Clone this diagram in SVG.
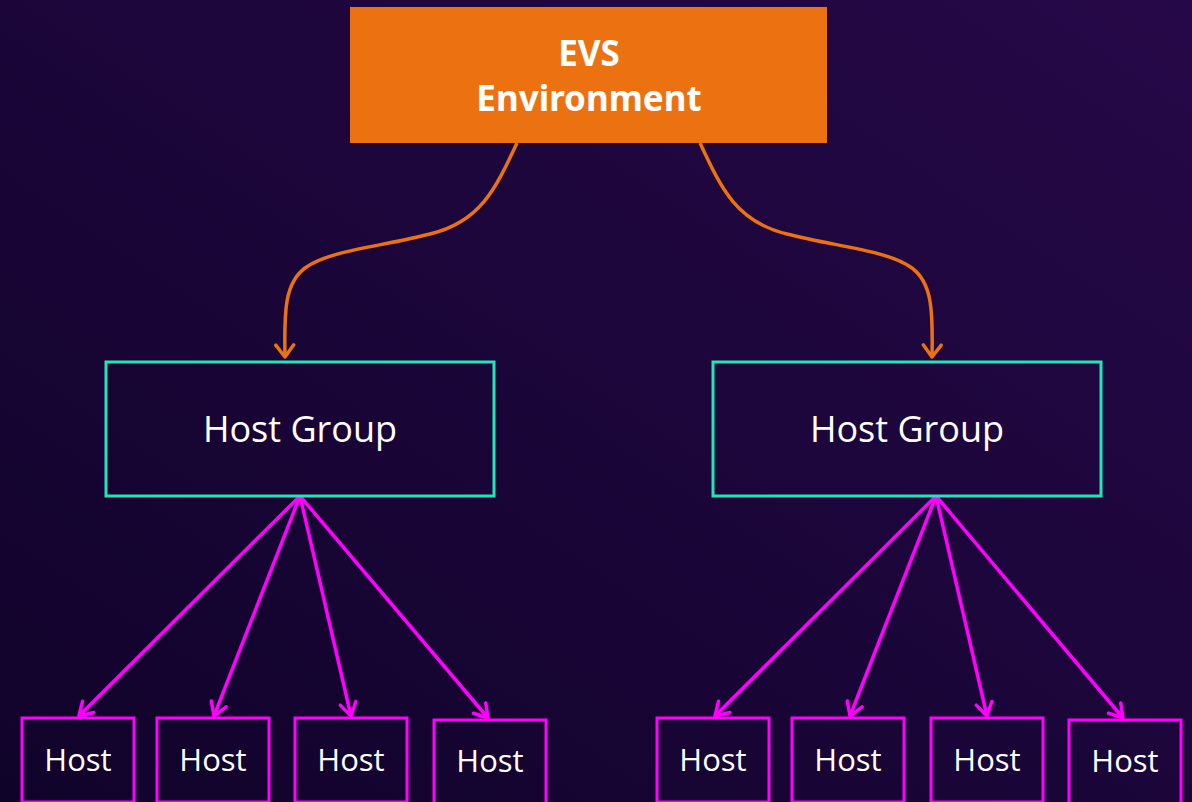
<svg xmlns="http://www.w3.org/2000/svg" width="1192" height="802" viewBox="0 0 1192 802">
<defs>
<linearGradient id="bg" x1="0" y1="1" x2="1" y2="0">
<stop offset="0" stop-color="#10032a"/>
<stop offset="1" stop-color="#260848"/>
</linearGradient>
<marker id="ao" markerUnits="userSpaceOnUse" markerWidth="30" markerHeight="30" viewBox="-16 -15 20 30" refX="0" refY="0" orient="auto">
<path d="M-12,-9 L0,0 L-12,9" fill="none" stroke="#ec7211" stroke-width="3.5" stroke-linecap="round" stroke-linejoin="round"/>
</marker>
<marker id="am" markerUnits="userSpaceOnUse" markerWidth="30" markerHeight="30" viewBox="-16 -15 20 30" refX="0" refY="0" orient="auto">
<path d="M-13,-8 L0,0 L-13,8" fill="none" stroke="#ff00ff" stroke-width="3.5" stroke-linecap="round" stroke-linejoin="round"/>
</marker>
</defs>
<style>
.group rect{fill:none;stroke:#22e5b8;stroke-width:3}
.host rect{fill:none;stroke:#ff00ff;stroke-width:3}
.lbl{font-family:"Open Sans","Noto Sans",sans-serif;fill:#ffffff;text-anchor:middle}
.gl{font-size:36px}
.hl{font-size:31px}
.env{font-family:"Noto Sans","Open Sans",sans-serif;font-weight:bold;font-size:35px;fill:#ffffff;text-anchor:middle}
.co{fill:none;stroke:#ec7211;stroke-width:3.5;marker-end:url(#ao)}
.cm{fill:none;stroke:#ff00ff;stroke-width:3.5;marker-end:url(#am)}
</style>
<rect x="0" y="0" width="1192" height="802" fill="url(#bg)"/>
<g id="connectors">
<path class="co" d="M517,143 C495,190 480,222 430,234 C380,247 330,250 305,268 C285,283 284,310 285,357"/>
<path class="co" d="M700,143 C722,190 737,222 787,234 C837,247 887,250 912,268 C932,283 933,310 932,357"/>
<line class="cm" x1="300" y1="496" x2="79" y2="716"/>
<line class="cm" x1="300" y1="496" x2="214" y2="716"/>
<line class="cm" x1="300" y1="496" x2="351" y2="716"/>
<line class="cm" x1="300" y1="496" x2="488" y2="718"/>
<line class="cm" x1="936" y1="496" x2="715" y2="716"/>
<line class="cm" x1="936" y1="496" x2="850" y2="716"/>
<line class="cm" x1="936" y1="496" x2="987" y2="716"/>
<line class="cm" x1="936" y1="496" x2="1123" y2="718"/>
</g>
<g id="evs">
<rect x="350" y="7" width="477" height="136" fill="#ec7211"/>
<text class="env" x="589" y="66">EVS</text>
<text class="env" x="589" y="111">Environment</text>
</g>
<g id="hostgroup1" class="group">
<rect x="106" y="362" width="388" height="134"/>
<text class="lbl gl" x="300" y="442">Host Group</text>
</g>
<g id="hostgroup2" class="group">
<rect x="713" y="362" width="388" height="134"/>
<text class="lbl gl" x="907" y="442">Host Group</text>
</g>
<g id="host1" class="host"><rect x="22" y="718" width="112" height="84"/><text class="lbl hl" x="78" y="771">Host</text></g>
<g id="host2" class="host"><rect x="157" y="718" width="112" height="84"/><text class="lbl hl" x="213" y="771">Host</text></g>
<g id="host3" class="host"><rect x="295" y="718" width="112" height="84"/><text class="lbl hl" x="351" y="771">Host</text></g>
<g id="host4" class="host"><rect x="434" y="720" width="112" height="84"/><text class="lbl hl" x="490" y="772">Host</text></g>
<g id="host5" class="host"><rect x="657" y="718" width="112" height="84"/><text class="lbl hl" x="713" y="771">Host</text></g>
<g id="host6" class="host"><rect x="792" y="718" width="112" height="84"/><text class="lbl hl" x="848" y="771">Host</text></g>
<g id="host7" class="host"><rect x="931" y="718" width="112" height="84"/><text class="lbl hl" x="987" y="771">Host</text></g>
<g id="host8" class="host"><rect x="1069" y="720" width="112" height="84"/><text class="lbl hl" x="1125" y="772">Host</text></g>
</svg>
